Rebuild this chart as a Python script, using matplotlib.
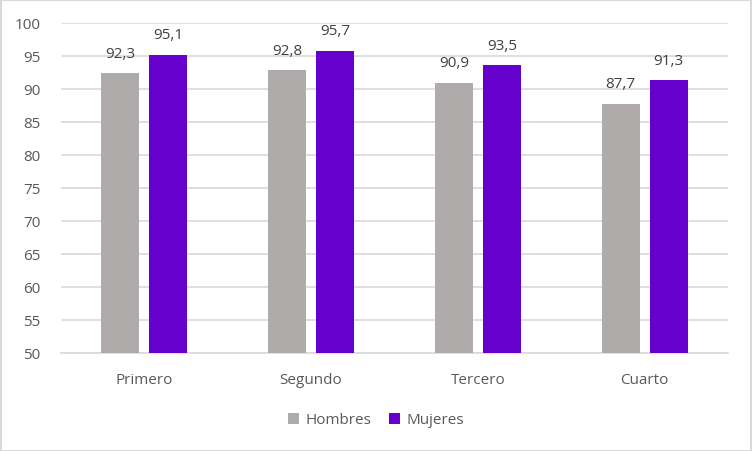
import matplotlib
matplotlib.use("Agg")
import matplotlib.pyplot as plt
import numpy as np
from matplotlib.patches import Rectangle

categories = ["Primero", "Segundo", "Tercero", "Cuarto"]
hombres = [92.3, 92.8, 90.9, 87.7]
mujeres = [95.1, 95.7, 93.5, 91.3]
series_names = ["Hombres", "Mujeres"]
colors = ["#AFABAB", "#6600CC"]

plt.rcParams['font.family'] = ['Open Sans', 'DejaVu Sans']

fig = plt.figure(figsize=(7.52, 4.52), dpi=100)
W, H = 752, 452
ax = fig.add_axes([61 / W, 1 - 354 / H, (728 - 61) / W, (354 - 23.5) / H])

x = np.arange(len(categories))
bw = 0.228
off = (bw + 0.06) / 2
b1 = ax.bar(x - off, hombres, bw, color=colors[0], label=series_names[0], zorder=3)
b2 = ax.bar(x + off, mujeres, bw, color=colors[1], label=series_names[1], zorder=3)

for bars, vals in ((b1, hombres), (b2, mujeres)):
    for r, v in zip(bars, vals):
        ax.annotate(f"{v:.1f}".replace(".", ","), (r.get_x() + r.get_width() / 2, v),
                    xytext=(0, 9), textcoords="offset points", ha="center", va="bottom",
                    fontsize=11, color="#404040")

ax.set_ylim(50, 100)
ax.set_yticks(np.arange(50, 101, 5))
ax.set_xlim(-0.5, len(categories) - 0.5)
ax.set_xticks(x)
ax.set_xticklabels(categories)
ax.tick_params(axis="both", length=0, labelsize=11, labelcolor="#595959")
ax.tick_params(axis="x", pad=14)
ax.tick_params(axis="y", pad=15)
ax.yaxis.grid(True, color="#D9D9D9", linewidth=1.2, zorder=0)
ax.set_axisbelow(True)
for s in ["top", "right", "left"]:
    ax.spines[s].set_visible(False)
ax.spines["bottom"].set_color("#D9D9D9")
ax.spines["bottom"].set_linewidth(1.2)

leg = fig.legend(handles=[b1, b2], labels=series_names, loc="center",
                 bbox_to_anchor=(0.5, 1 - 421 / H), ncol=2, frameon=False,
                 fontsize=11, handlelength=0.7, handleheight=0.7,
                 handletextpad=0.4, columnspacing=1.2)
for t in leg.get_texts():
    t.set_color("#595959")

fig.patches.append(Rectangle((0.5 / W, 0.5 / H), 1 - 1.5 / W, 1 - 1.5 / H,
                             transform=fig.transFigure, fill=False,
                             edgecolor="#D9D9D9", linewidth=1.5))

fig.savefig("out.png", dpi=100)
